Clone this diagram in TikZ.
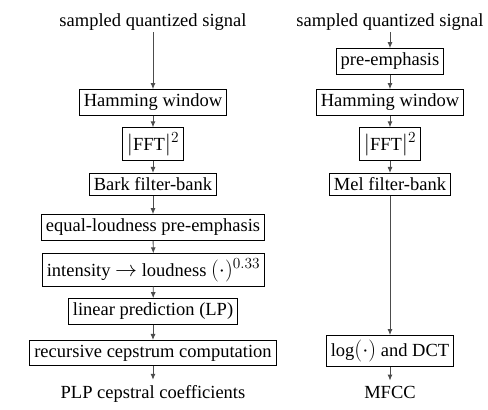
\RequirePackage{fix-cm}
\documentclass[tikz,border=0pt]{standalone}
\usepackage{fontspec}
\setmainfont{Liberation Serif}
\usetikzlibrary{arrows.meta}
\newcommand{\mth}[1]{{\fontsize{22}{26}\selectfont$#1$}}
\begin{document}
\begin{tikzpicture}[x=1pt,y=-1pt,
  every node/.style={font=\fontsize{18.5}{22}\selectfont},
  blk/.style={draw=black,line width=0.9pt,inner xsep=4.5pt,inner ysep=4.5pt},
  lbl/.style={inner sep=2pt,anchor=base},
  arr/.style={draw=black!70,line width=0.9pt,-{Latex[length=6pt,width=5pt]}}]
\useasboundingbox (0,0) rectangle (488,410);
% left column
\node[lbl] (s1) at (153,26) {sampled quantized signal};
\node[blk] (h1) at (153,102.5) {Hamming window};
\node[blk] (f1) at (153,144) {\mth{|}FFT\mth{|^2}};
\node[blk] (b1) at (153,184.5) {Bark filter-bank};
\node[blk] (e1) at (153,227.5) {equal-loudness pre-emphasis};
\node[blk] (i1) at (153.5,270) {intensity \mth{\rightarrow} loudness \mth{(\cdot)^{0.33}}\hspace{5pt}};
\node[blk] (l1) at (153,311.5) {linear prediction (LP)};
\node[blk] (r1) at (153,353) {recursive cepstrum computation};
\node[lbl,inner sep=5pt] (p1) at (153,398) {PLP cepstral coefficients};
% right column
\node[lbl] (s2) at (390,26) {sampled quantized signal};
\node[blk] (pe) at (390,61.5) {pre-emphasis};
\node[blk] (h2) at (390,102.5) {Hamming window};
\node[blk] (f2) at (390,144) {\mth{|}FFT\mth{|^2}};
\node[blk] (m2) at (390,184.5) {Mel filter-bank};
\node[blk] (d2) at (390,351) {log\mth{(\cdot)} and DCT};
\node[lbl,inner sep=5pt] (mf) at (390,398) {MFCC};
% arrows
\draw[arr] (s1) -- (h1);
\draw[arr] (h1) -- (f1);
\draw[arr] (f1) -- (b1);
\draw[arr] (b1) -- (e1);
\draw[arr] (e1) -- (i1);
\draw[arr] (i1) -- (l1);
\draw[arr] (l1) -- (r1);
\draw[arr] (r1) -- (p1);
\draw[arr] (s2) -- (pe);
\draw[arr] (pe) -- (h2);
\draw[arr] (h2) -- (f2);
\draw[arr] (f2) -- (m2);
\draw[arr] (m2) -- (d2);
\draw[arr] (d2) -- (mf);
\end{tikzpicture}
\end{document}
